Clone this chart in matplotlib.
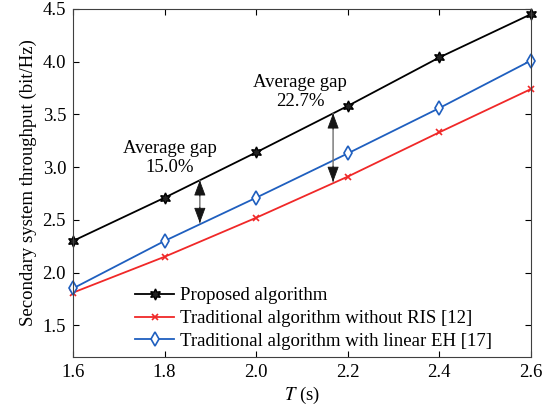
import matplotlib.pyplot as plt

T = [1.6, 1.8, 2.0, 2.2, 2.4, 2.6]
proposed = [2.30, 2.71, 3.14, 3.58, 4.04, 4.45]
no_ris = [1.81, 2.15, 2.52, 2.91, 3.33, 3.74]
linear_eh = [1.85, 2.30, 2.71, 3.13, 3.56, 4.01]

labels = ["Proposed algorithm",
          "Traditional algorithm without RIS [12]",
          "Traditional algorithm with linear EH [17]"]

# gap arrows: x position, top and bottom values
gap_x = [1.877, 2.168]
gap_top = [2.875, 3.51]
gap_bottom = [2.47, 2.86]
gap_text = ["Average gap\n15.0%", "Average gap\n22.7%"]
text_pos = [(1.812, 3.09), (2.096, 3.716)]

plt.rcParams["font.family"] = ["Liberation Serif", "DejaVu Serif"]
plt.rcParams["font.size"] = 13.5
plt.rcParams["mathtext.fontset"] = "stix"

fig = plt.figure(figsize=(5.49, 4.07), dpi=100)
ax = fig.add_axes([0.133, 0.123, 0.834, 0.855])

ax.plot(T, proposed, color="black", lw=1.3, marker=(6, 1, 0), ms=8,
        mfc="#222222", mec="black", label=labels[0], clip_on=False)
ax.plot(T, no_ris, color="#f02828", lw=1.3, marker="x", ms=5, mew=1.2,
        label=labels[1], clip_on=False)
ax.plot(T, linear_eh, color="#1f5fbf", lw=1.3, marker="d", ms=7.5,
        mfc="white", mew=1.2, label=labels[2], clip_on=False)

head = "-|>,head_length=0.75,head_width=0.28"
for x, top, bot in zip(gap_x, gap_top, gap_bottom):
    ax.annotate("", xy=(x, top), xytext=(x, bot),
                arrowprops=dict(arrowstyle="-", color="#707070", lw=1.0,
                                shrinkA=0, shrinkB=0))
    for end, start in [(top, top - 0.15), (bot, bot + 0.15)]:
        ax.annotate("", xy=(x, end), xytext=(x, start),
                    arrowprops=dict(arrowstyle=head, color="#151515", lw=0.6,
                                    mutation_scale=13, shrinkA=0, shrinkB=0))

for (tx, ty), s in zip(text_pos, gap_text):
    ax.text(tx, ty, s, ha="center", va="center", linespacing=1.15)

ax.set_xlim(1.6, 2.6)
ax.set_ylim(1.2, 4.5)
ax.set_xticks([1.6, 1.8, 2.0, 2.2, 2.4, 2.6])
ax.set_yticks([1.5, 2.0, 2.5, 3.0, 3.5, 4.0, 4.5])
ax.set_xticklabels(["1.6", "1.8", "2.0", "2.2", "2.4", "2.6"])
ax.set_yticklabels(["1.5", "2.0", "2.5", "3.0", "3.5", "4.0", "4.5"])
ax.tick_params(direction="in", top=True, right=True, length=4, width=0.8,
               pad=5)
for s in ax.spines.values():
    s.set_color("#404040")
    s.set_linewidth(0.8)

ax.set_xlabel("$T$ (s)", labelpad=3)
ax.set_ylabel("Secondary system throughput (bit/Hz)", labelpad=4)

ax.legend(loc="lower left", bbox_to_anchor=(0.135, 0.02), frameon=False,
          borderpad=0, borderaxespad=0, handlelength=2.1, handletextpad=0.3,
          labelspacing=0.3)

fig.savefig("out.png", dpi=100)
